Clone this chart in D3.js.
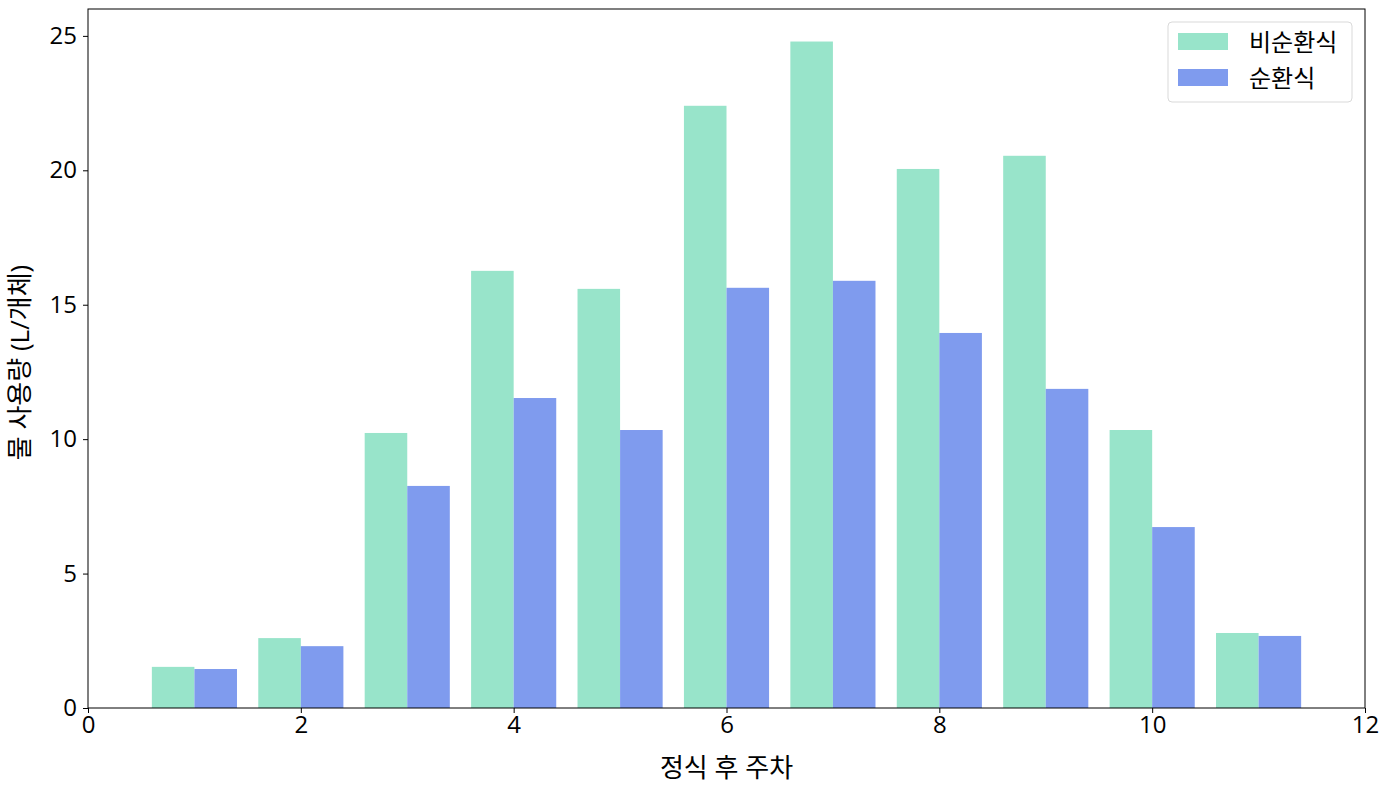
<!DOCTYPE html>
<html><head><meta charset="utf-8">
<script src="https://cdn.jsdelivr.net/npm/d3@7"></script>
<style>body{margin:0;background:#fff;}svg{display:block;font-family:"Open Sans","Noto Sans CJK KR",sans-serif;}</style>
</head><body>
<svg id="c" width="1390" height="789"></svg>
<script>
const weeks = [1,2,3,4,5,6,7,8,9,10,11];
const nonCirc = [1.53,2.60,10.23,16.26,15.59,22.40,24.79,20.05,20.54,10.34,2.79];
const circ = [1.45,2.30,8.26,11.53,10.34,15.63,15.89,13.95,11.87,6.73,2.68];
const seriesNames = ["비순환식","순환식"];
const colors = ["#98e4ca","#7f9bee"];
const xTicks = [0,2,4,6,8,10,12];
const yTicks = [0,5,10,15,20,25];

const svg = d3.select("#c");
const m = {l:88,r:1365,t:9,b:708};
const x = d3.scaleLinear().domain([0,12]).range([m.l,m.r]);
const y = d3.scaleLinear().domain([0,26]).range([m.b,m.t]);
const w = 0.4;
const F = "'Open Sans','Noto Sans CJK KR',sans-serif";

const series = [nonCirc, circ];
series.forEach((vals,si)=>{
  svg.append("g").selectAll("rect").data(weeks).join("rect")
    .attr("x",(d)=>x(d - w + si*w))
    .attr("width",x(w)-x(0))
    .attr("y",(d,i)=>y(vals[i]))
    .attr("height",(d,i)=>y(0)-y(vals[i]))
    .attr("fill",colors[si]);
});

const xa = svg.append("g").attr("transform",`translate(0,${m.b})`)
  .call(d3.axisBottom(x).tickValues(xTicks).tickSize(5).tickPadding(3));
const ya = svg.append("g").attr("transform",`translate(${m.l},0)`)
  .call(d3.axisLeft(y).tickValues(yTicks).tickSize(5).tickPadding(6));
[xa,ya].forEach(a=>{
  a.select(".domain").remove();
  a.selectAll("text").attr("font-size",24).attr("fill","#000").style("font-family",F);
  a.selectAll("line").attr("stroke","#000");
});
svg.append("rect").attr("x",m.l).attr("y",m.t).attr("width",m.r-m.l).attr("height",m.b-m.t)
  .attr("fill","none").attr("stroke","#000").attr("stroke-width",1);

svg.append("text").attr("x",(m.l+m.r)/2).attr("y",777).attr("text-anchor","middle")
  .attr("font-size",26).text("정식 후 주차");
svg.append("text").attr("transform",`translate(29,${(m.t+m.b)/2 + 4}) rotate(-90)`).attr("text-anchor","middle")
  .attr("font-size",26).text("물 사용량 (L/개체)");

const lg = svg.append("g").attr("transform","translate(1168,22)");
lg.append("rect").attr("width",184).attr("height",80).attr("rx",4).attr("fill","#fff")
  .attr("stroke","#d6d6d6").attr("opacity",0.9);
seriesNames.forEach((n,i)=>{
  lg.append("rect").attr("x",10).attr("y",11+i*36).attr("width",50).attr("height",17).attr("fill",colors[i]);
  lg.append("text").attr("x",81).attr("y",29+i*36).attr("font-size",24).text(n);
});
</script>
</body></html>
